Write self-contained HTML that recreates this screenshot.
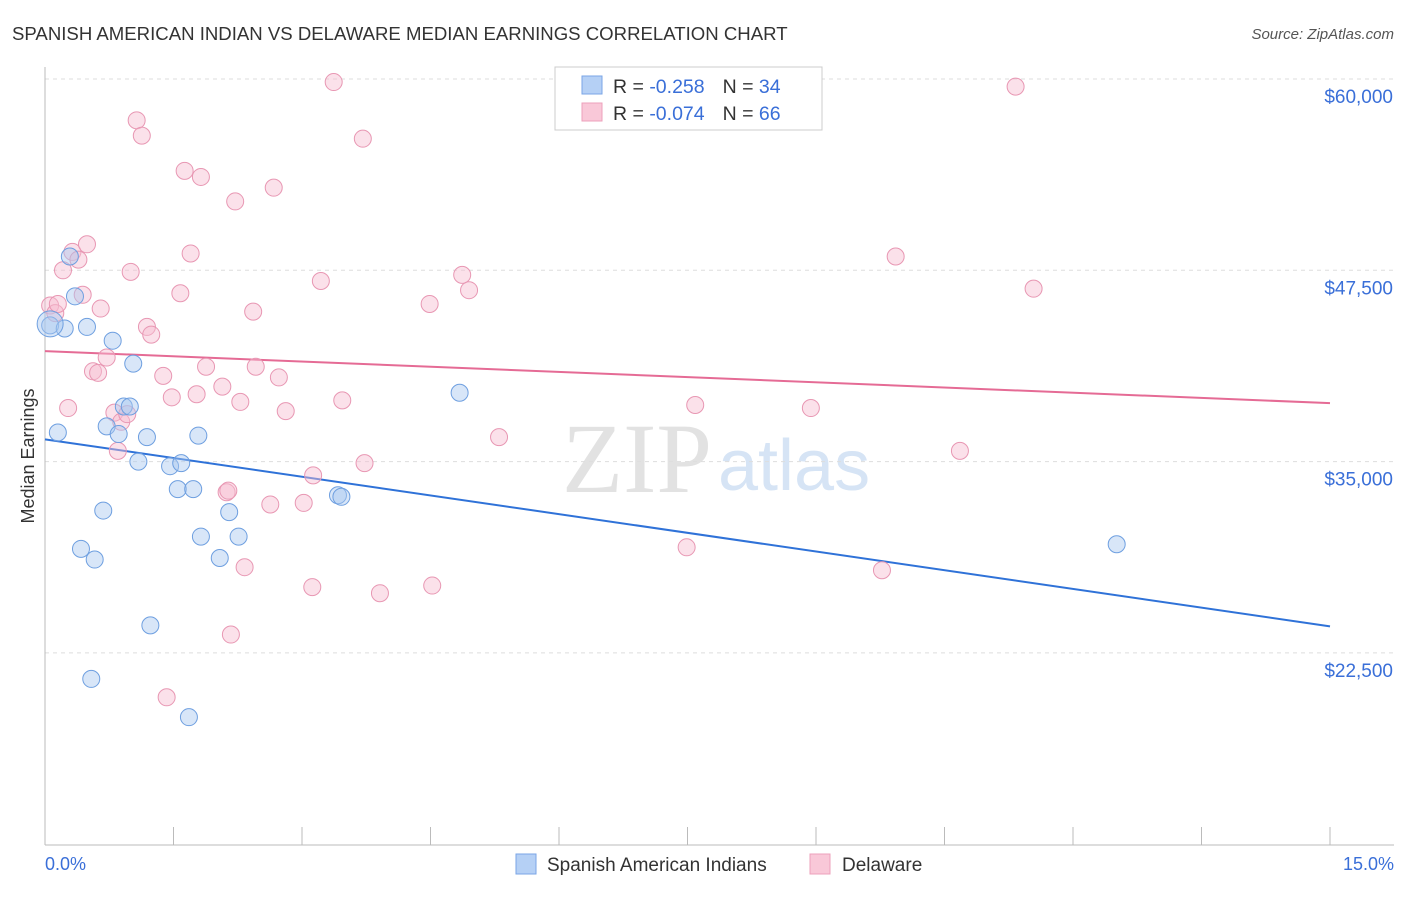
<!DOCTYPE html>
<html><head><meta charset="utf-8">
<style>
body{margin:0;background:#fff;font-family:"Liberation Sans",sans-serif;}
svg text{font-family:"Liberation Sans",sans-serif;}
</style></head>
<body>
<svg width="1406" height="892">
<text x="12" y="40" font-size="18.6" fill="#333">SPANISH AMERICAN INDIAN VS DELAWARE MEDIAN EARNINGS CORRELATION CHART</text>
<text x="1394" y="39" font-size="15" fill="#555" font-style="italic" text-anchor="end">Source: ZipAtlas.com</text>
<text x="712" y="492" font-size="100" fill="#e2e2e2" style="font-family:'Liberation Serif',serif" text-anchor="end">ZIP</text>
<text x="718" y="490" font-size="72" fill="#d6e4f5">atlas</text>
<g id="grid"></g>
<g id="axes"></g>
<g id="lines"></g>
<g id="pts"></g>
<text x="34" y="456" font-size="18" fill="#333" transform="rotate(-90 34 456)" text-anchor="middle">Median Earnings</text>
<text x="45" y="870" font-size="18" fill="#3a6fd8">0.0%</text>
<text x="1394" y="870" font-size="18" fill="#3a6fd8" text-anchor="end">15.0%</text>
<g>
<rect x="555" y="67" width="267" height="63" fill="#fff" stroke="#ccc"/>
<rect x="582" y="76" width="20" height="18" fill="#b5d0f5" stroke="#7aa5e6"/>
<rect x="582" y="103" width="20" height="18" fill="#f9c8d8" stroke="#eda0bb"/>
<text x="613" y="93" font-size="19.5" fill="#333">R = <tspan fill="#3a6fd8">-0.258</tspan><tspan dx="18">N = </tspan><tspan fill="#3a6fd8">34</tspan></text>
<text x="613" y="120" font-size="19.5" fill="#333">R = <tspan fill="#3a6fd8">-0.074</tspan><tspan dx="18">N = </tspan><tspan fill="#3a6fd8">66</tspan></text>
</g>
<g>
<rect x="516" y="854" width="20" height="20" fill="#b5d0f5" stroke="#7aa5e6"/>
<text x="547" y="871" font-size="19" fill="#333">Spanish American Indians</text>
<rect x="810" y="854" width="20" height="20" fill="#f9c8d8" stroke="#eda0bb"/>
<text x="842" y="871" font-size="19" fill="#333">Delaware</text>
</g>
</svg>
<script>
const yTicks=[60000,47500,35000,22500];
const yTickLabels=["$60,000","$47,500","$35,000","$22,500"];
const xTicks=[0,1.5,3,4.5,6,7.5,9,10.5,12,13.5,15];
const blueX=[0.06,0.23,0.29,0.35,0.49,0.79,0.15,0.72,0.86,0.92,0.99,1.03,1.19,1.09,1.46,1.59,1.55,1.73,1.79,0.68,0.42,0.58,1.23,0.54,1.68,1.82,2.04,2.15,2.26,3.42,3.46,4.84,12.51,0.06];
const blueY=[43900,43700,48400,45800,43800,42900,36900,37300,36800,38600,38600,41400,36600,35000,34700,34900,33200,33200,36700,31800,29300,28600,24300,20800,18300,30100,28700,31700,30100,32800,32700,39500,29600,44000];
const pinkX=[0.06,0.12,0.15,0.21,0.32,0.39,0.49,0.44,0.65,0.27,0.56,0.62,0.72,0.85,0.81,0.89,0.96,1.0,1.07,1.13,1.19,1.24,1.38,1.48,1.58,1.63,1.7,1.77,1.82,1.88,2.07,2.12,2.22,2.28,2.33,2.43,2.46,2.67,2.73,2.81,2.63,3.02,3.13,3.12,3.22,3.37,3.47,3.71,3.73,3.91,4.49,4.52,4.87,4.95,5.3,7.59,7.49,8.94,9.77,9.93,10.68,11.33,11.54,1.42,2.17,2.14];
const pinkY=[45200,44700,45300,47500,48700,48200,49200,45900,45000,38500,40900,40800,41800,35700,38200,37600,38100,47400,57300,56300,43800,43300,40600,39200,46000,54000,48600,39400,53600,41200,39900,33000,52000,38900,28100,44800,41200,52900,40500,38300,32200,32300,34100,26800,46800,59800,39000,56100,34900,26400,45300,26900,47200,46200,36600,38700,29400,38500,27900,48400,35700,59500,46300,19600,23700,33100];
const X=v=>45+v/15*1285, Y=v=>79+(60000-v)*191.3/12500;
const NS="http://www.w3.org/2000/svg";
function mk(t,a,p){const e=document.createElementNS(NS,t);for(const k in a)e.setAttribute(k,a[k]);document.getElementById(p).appendChild(e);return e;}
yTicks.forEach((v,i)=>{
 const l=mk('line',{x1:45,x2:1394,y1:Y(v),y2:Y(v),stroke:'#ddd','stroke-dasharray':'4 4'},'grid');
 
 
 const t=mk('text',{x:1393,y:Y(v)+24,'font-size':19,fill:'#3a6fd8','text-anchor':'end'},'grid');
 t.textContent=yTickLabels[i];
 
 
});
const ax=mk('line',{x1:45,x2:1394,y1:845,y2:845,stroke:'#bbb'},'axes');


const ay=mk('line',{x1:45,x2:45,y1:67,y2:845,stroke:'#bbb'},'axes');


xTicks.forEach(v=>{
 const t=mk('line',{x1:X(v),x2:X(v),y1:827,y2:845,stroke:'#bbb'},'axes');
 
 
});
function fit(xs,ys){const n=xs.length,mx=xs.reduce((a,b)=>a+b)/n,my=ys.reduce((a,b)=>a+b)/n;let sxy=0,sxx=0;for(let i=0;i<n;i++){sxy+=(xs[i]-mx)*(ys[i]-my);sxx+=(xs[i]-mx)**2;}const b=sxy/sxx;return [my-b*mx,b];}
function pts(xs,ys,fill,stroke,name){xs.forEach((x,i)=>{const c=mk('circle',{cx:X(x),cy:Y(ys[i]),r:i===xs.length-1&&name.startsWith('spanish')?13:8.5,fill:fill,'fill-opacity':0.45,stroke:stroke,'stroke-width':1},'pts');
 
 });}
pts(pinkX,pinkY,'#f7bcd0','#e897b3','delaware-point');
pts(blueX,blueY,'#a9c7f0','#6e9fe0','spanish-american-indian-point');
[[blueX,blueY,'#2f72d8','blue-trend-line'],[pinkX,pinkY,'#e56b95','pink-trend-line']].forEach(([xs,ys,c,n])=>{
 const [a,b]=fit(xs,ys);
 const l=mk('line',{x1:X(0),y1:Y(a),x2:X(15),y2:Y(a+b*15),stroke:c,'stroke-width':2},'lines');
 
 
});
</script>
</body></html>
